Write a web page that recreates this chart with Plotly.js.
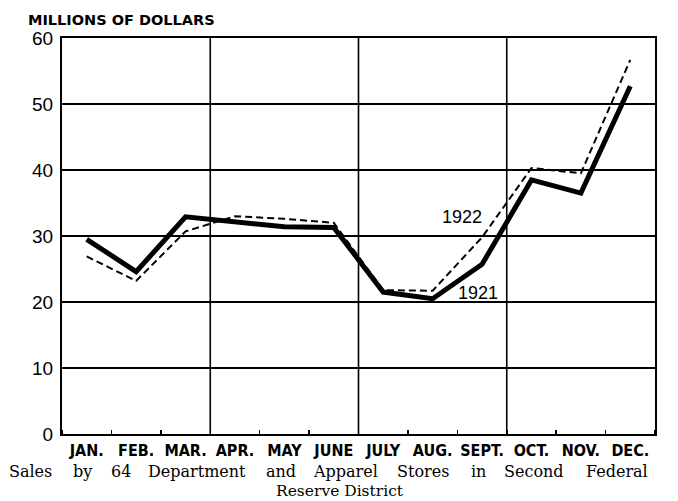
<!DOCTYPE html>
<html>
<head>
<meta charset="utf-8">
<script src="https://cdn.plot.ly/plotly-3.0.1.min.js"></script>
<style>html,body{margin:0;padding:0;background:#fff;}#chart{width:678px;height:501px;}</style>
</head>
<body>
<div id="chart"></div>
<script>
// ---- data ----
const months = ["JAN.", "FEB.", "MAR.", "APR.", "MAY", "JUNE", "JULY", "AUG.", "SEPT.", "OCT.", "NOV.", "DEC."];
const sales1921 = [29.5, 24.6, 32.9, 32.1, 31.4, 31.3, 21.5, 20.5, 25.7, 38.5, 36.5, 52.7];
const sales1922 = [26.9, 23.2, 30.7, 33.0, 32.6, 32.0, 21.8, 21.7, 29.8, 40.3, 39.5, 56.7];
const yTicks = [0, 10, 20, 30, 40, 50, 60];
const seriesNames = ["1921", "1922"];

const xIdx = months.map((m, i) => i);

const traces = [
  {
    x: xIdx, y: sales1922, type: "scatter", mode: "lines", name: seriesNames[1],
    line: {color: "#000", width: 2, dash: "7px,4px"}
  },
  {
    x: xIdx, y: sales1921, type: "scatter", mode: "lines", name: seriesNames[0],
    line: {color: "#000", width: 5}
  }
];

// vertical quarter separators
const shapes = [];
xIdx.forEach(i => {
  if (i % 3 === 2 && i < months.length - 1) {
    shapes.push({type: "line", xref: "x", yref: "paper", x0: i + 0.5, x1: i + 0.5, y0: 0, y1: 1,
      line: {color: "#000", width: 1.6}});
  }
});

// pixel helpers for text placement
const L = 62, R = 655, T = 38, B = 434;
const px = v => (v - L) / (R - L);
const py = v => (B - v) / (B - T);

const annotations = [
  {text: "MILLIONS OF DOLLARS", xref: "paper", yref: "paper", x: px(27), y: py(20), xanchor: "left", yanchor: "middle",
   showarrow: false, borderpad: 0, font: {family: "DejaVu Sans", size: 14.5, color: "#000", weight: "bold"}},
  {text: seriesNames[1], xref: "x", yref: "y", x: 7.59, y: 32.9, showarrow: false,
   font: {family: "Liberation Sans", size: 18, color: "#000"}},
  {text: seriesNames[0], xref: "x", yref: "y", x: 7.91, y: 21.4, showarrow: false,
   font: {family: "Liberation Sans", size: 18, color: "#000"}},
  {text: "Reserve District", xref: "paper", yref: "paper", x: px(340), y: py(501), xanchor: "center", yanchor: "bottom",
   showarrow: false, borderpad: 0, font: {family: "DejaVu Serif", size: 15.5, color: "#000"}}
];

const captionWords = ["Sales", "by", "64", "Department", "and", "Apparel", "Stores", "in", "Second", "Federal"];
const captionLeft = [8, 72, 110, 147, 265, 312, 396, 470, 503, 585];
captionWords.forEach((w, k) => {
  annotations.push({text: w, xref: "paper", yref: "paper", x: px(captionLeft[k]), y: py(471),
    xanchor: "left", yanchor: "middle", showarrow: false, borderpad: 0,
    font: {family: "DejaVu Serif", size: 16, color: "#000"}});
});

const layout = {
  width: 678, height: 501,
  margin: {l: L, r: 678 - R, t: T, b: 501 - B, pad: 0},
  paper_bgcolor: "#fff", plot_bgcolor: "#fff",
  showlegend: false,
  xaxis: {
    range: [-0.5, 11.5], tickmode: "array", tickvals: xIdx, ticktext: months,
    ticks: "", showgrid: false, zeroline: false,
    showline: true, mirror: true, linecolor: "#000", linewidth: 2,
    tickfont: {family: "Liberation Sans Narrow, DejaVu Sans Condensed, Liberation Sans", size: 16, color: "#000", weight: "bold"},
    ticklabelstandoff: 1,
    minor: {tick0: 0.5, dtick: 1, ticks: "inside", ticklen: 4, tickwidth: 1.5, tickcolor: "#000", showgrid: false}
  },
  yaxis: {
    range: [0, 60], tickmode: "array", tickvals: yTicks, ticktext: yTicks.map(String),
    ticks: "", showgrid: true, gridcolor: "#000", gridwidth: 1.4, zeroline: false,
    showline: true, mirror: true, linecolor: "#000", linewidth: 2,
    tickfont: {family: "Liberation Sans", size: 19, color: "#000"},
    ticklabelstandoff: 3
  },
  shapes: shapes,
  annotations: annotations
};

Plotly.newPlot("chart", traces, layout, {displayModeBar: false, staticPlot: true});
</script>
</body>
</html>
